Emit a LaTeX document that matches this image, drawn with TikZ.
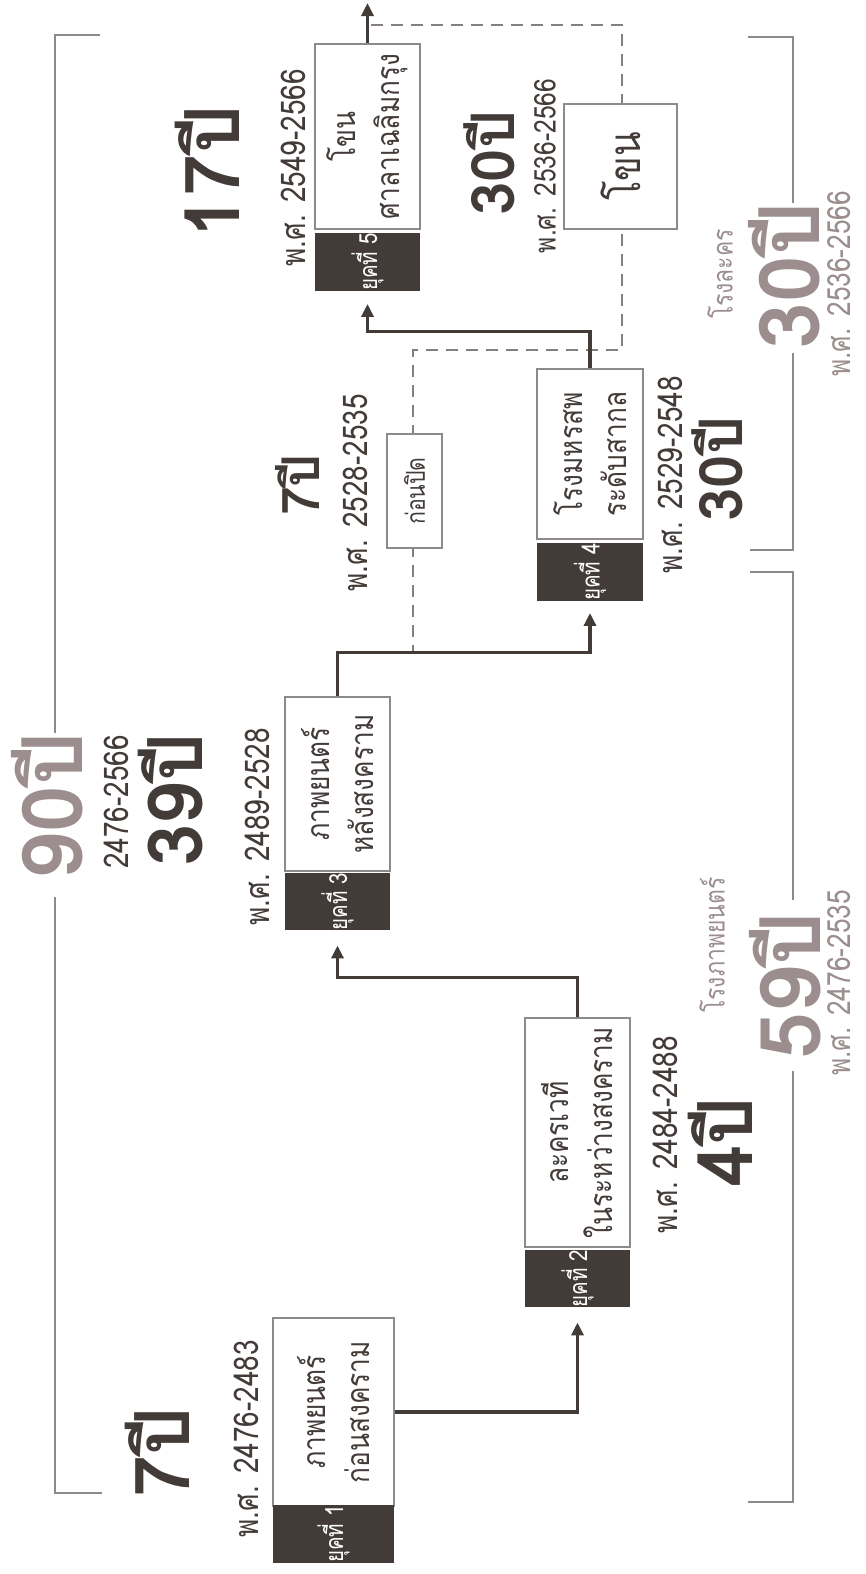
\documentclass[tikz,border=0pt]{standalone}
\usepackage{fontspec}
\newfontfamily\thai[Script=Thai,FakeStretch=0.82]{Loma}
\newfontfamily\thaibig[Script=Thai]{Loma}
\usetikzlibrary{arrows.meta}
\definecolor{dk}{HTML}{433B38}
\definecolor{gtxt}{HTML}{9C8E8E}
\definecolor{gline}{HTML}{8E8A8A}
\definecolor{gdash}{HTML}{858080}
\tikzset{
  every node/.style={rotate=90, inner sep=0pt},
  whitebox/.style={draw=gline, line width=1.3pt, fill=white, align=center, text=dk,
    font=\thai\fontsize{32}{44}\selectfont},
  tabbox/.style={fill=dk, text=white, font=\thai\fontsize{25}{28}\selectfont},
  conn/.style={draw=dk, line width=3.5pt, -{Triangle[length=13pt,width=12pt]}},
  dashln/.style={draw=gdash, line width=2.8pt, dash pattern=on 12pt off 8pt},
  brk/.style={draw=gline, line width=1.8pt},
  datelbl/.style={text=dk, font=\thai\fontsize{34}{38}\selectfont},
  dategr/.style={text=gtxt, font=\thai\fontsize{32}{36}\selectfont},
  smgr/.style={text=gtxt, font=\thai\fontsize{28}{32}\selectfont},
  bigdk/.style={text=dk, font=\thaibig\bfseries\fontsize{76}{80}\selectfont},
  middk/.style={text=dk, font=\thaibig\bfseries\fontsize{60}{64}\selectfont},
  smalldk/.style={text=dk, font=\thaibig\bfseries\fontsize{52}{56}\selectfont},
  biggr/.style={text=gtxt, font=\thaibig\bfseries\fontsize{84}{88}\selectfont},
}
\begin{document}
\begin{tikzpicture}[x=1pt,y=-1pt]
\fill[white] (0,0) rectangle (865,1574);
\useasboundingbox (0,0) rectangle (865,1574);

% brackets
\draw[brk] (100,35) -- (55,35) -- (55,733);
\draw[brk] (55,897) -- (55,1493) -- (102,1493);
\draw[brk] (748,37) -- (793,37) -- (793,203);
\draw[brk] (793,353) -- (793,550) -- (750,550);
\draw[brk] (750,572) -- (793,572) -- (793,900);
\draw[brk] (793,1071) -- (793,1502) -- (748,1502);

% dashed region
\draw[dashln] (371,25) -- (622,25) -- (622,350) -- (413,350) -- (413,653);

% era boxes
\node[whitebox, minimum width=188pt, minimum height=121pt] (b1) at (333.5,1412) {ภาพยนตร์\\ก่อนสงคราม};
\node[tabbox, minimum width=52pt, minimum height=121pt] (t1) at (333.5,1534) {ยุคที่ 1};
\node[whitebox, minimum width=229pt, minimum height=105pt] (b2) at (577.5,1132.5) {ละครเวที\\ในระหว่างสงคราม};
\node[tabbox, minimum width=53pt, minimum height=105pt] (t2) at (577.5,1278.5) {ยุคที่ 2};
\node[whitebox, minimum width=174pt, minimum height=105pt] (b3) at (337.5,784) {ภาพยนตร์\\หลังสงคราม};
\node[tabbox, minimum width=53pt, minimum height=105pt] (t3) at (337.5,901.5) {ยุคที่ 3};
\node[whitebox, minimum width=170pt, minimum height=106pt] (b4) at (590,454) {โรงมหรสพ\\ระดับสากล};
\node[tabbox, minimum width=52pt, minimum height=106pt] (t4) at (590,572) {ยุคที่ 4};
\node[whitebox, minimum width=185pt, minimum height=105pt] (b5) at (367.5,136.5) {โขน\\ศาลาเฉลิมกรุง};
\node[tabbox, minimum width=56pt, minimum height=105pt] (t5) at (367.5,262) {ยุคที่ 5};
\node[whitebox, minimum width=125pt, minimum height=113pt, font=\thai\fontsize{44}{48}\selectfont] (bk) at (620.5,166.5) {โขน};
\node[whitebox, minimum width=114pt, minimum height=55pt, font=\thai\fontsize{26}{30}\selectfont] (bp) at (414.5,491) {ก่อนปิด};

% connectors
\coordinate (top) at (367.5,3);
\draw[conn] (b1.south) -| ([yshift=-15pt]t2.west);
\draw[conn] (b2.east) -- ++(0,-40) -| ([yshift=-15pt]t3.west);
\draw[conn] (b3.east) -- ++(0,-44) -| ([yshift=-12pt]t4.west);
\draw[conn] (b4.east) -- ++(0,-37) -| ([yshift=-13pt]t5.west);
\draw[conn] (b5.east) -- (top);

% date labels
\node[datelbl] (l1) at (246,1439) {พ.ศ. 2476-2483};
\node[datelbl] (l2) at (665,1135) {พ.ศ. 2484-2488};
\node[datelbl] (l3) at (257,827) {พ.ศ. 2489-2528};
\node[datelbl] (l3b) at (355,493) {พ.ศ. 2528-2535};
\node[datelbl] (l4) at (670,475) {พ.ศ. 2529-2548};
\node[datelbl] (l5) at (293,168) {พ.ศ. 2549-2566};
\node[datelbl, font=\thai\fontsize{30}{34}\selectfont] (l6) at (545,166) {พ.ศ. 2536-2566};
\node[datelbl] (l90) at (116,802) {2476-2566};

% year counts
\node[bigdk] (y1) at (157,1452) {7ปี};
\node[bigdk] (y2) at (720,1142) {4ปี};
\node[bigdk] (y3) at (171,800) {39ปี};
\node[smalldk] (y3b) at (297,485) {7ปี};
\node[bigdk] (y5) at (207,172) {17ปี};
\node[middk] (y6) at (489,163) {30ปี};
\node[middk] (y4) at (717,469) {30ปี};

% grey totals
\node[biggr] (g90) at (47,806) {90ปี};
\node[biggr] (g30) at (784,276) {30ปี};
\node[biggr] (g59) at (785,986) {59ปี};
\node[smgr] (tl) at (720,274) {โรงละคร};
\node[smgr] (tp) at (712,945) {โรงภาพยนตร์};
\node[dategr] (r1) at (839,284) {พ.ศ. 2536-2566};
\node[dategr] (r2) at (839,983) {พ.ศ. 2476-2535};
\end{tikzpicture}
\end{document}
